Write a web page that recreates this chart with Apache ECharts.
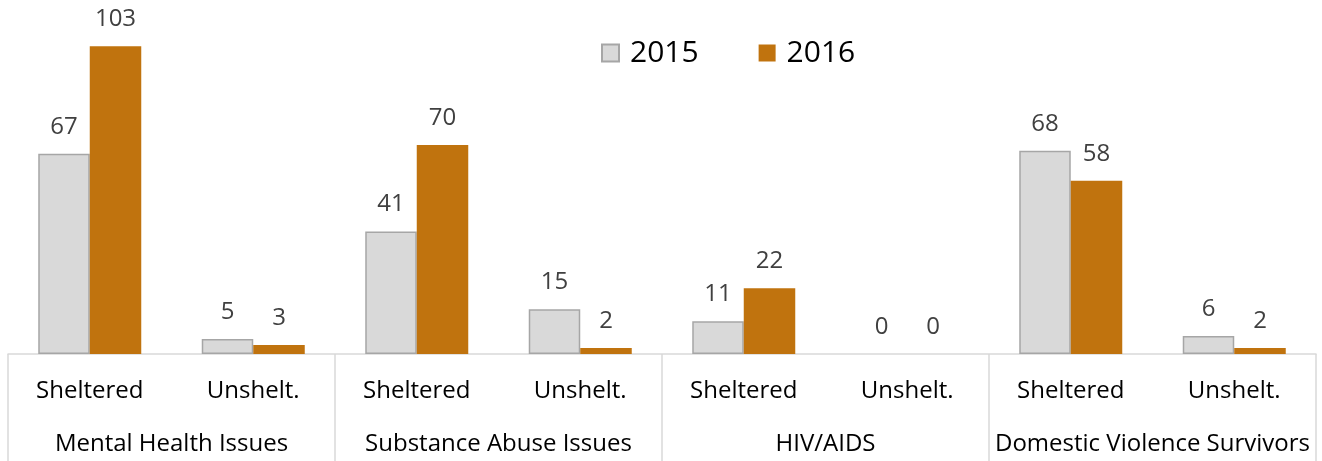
<!DOCTYPE html>
<html lang="en">
<head>
    <meta charset="UTF-8">
    <title>Sheltered vs Unsheltered</title>
    <script src="https://cdn.jsdelivr.net/npm/echarts@6.0.0/dist/echarts.min.js"></script>
    <style>
        * { margin: 0; padding: 0; }
        body { background: #fff; }
        #chart { width: 1322px; height: 461px; }
    </style>
</head>
<body>
    <div id="chart"></div>
    <script>
        // data
        const subCats = ['Sheltered', 'Unshelt.', 'Sheltered', 'Unshelt.', 'Sheltered', 'Unshelt.', 'Sheltered', 'Unshelt.'];
        const groups = ['Mental Health Issues', 'Substance Abuse Issues', 'HIV/AIDS', 'Domestic Violence Survivors'];
        const v2015 = [67, 5, 41, 15, 11, 0, 68, 6];
        const v2016 = [103, 3, 70, 2, 22, 0, 58, 2];

        const font = '"Open Sans", sans-serif';
        const chart = echarts.init(document.getElementById('chart'));

        const labelStyle = {
            show: true,
            position: 'top',
            distance: 15,
            color: '#404040',
            fontSize: 24,
            fontFamily: font
        };

        // zero-height bars get no outline, like the original
        const noZeroBorder = arr => arr.map(v => v === 0 ? { value: v, itemStyle: { borderWidth: 0 } } : v);

        chart.setOption({
            animation: false,
            textStyle: { fontFamily: font },
            legend: {
                top: 33,
                left: 596,
                icon: 'rect',
                itemWidth: 17,
                itemHeight: 17,
                itemGap: 60,
                textStyle: { fontSize: 30, color: '#000', fontFamily: font, padding: [0, 0, 0, 6] }
            },
            grid: { left: 8, right: 6, top: 0, bottom: 107 },
            xAxis: [
                {
                    // sub categories: Sheltered / Unshelt.
                    type: 'category',
                    data: subCats,
                    position: 'bottom',
                    axisLine: { show: false },
                    axisTick: { show: false },
                    axisLabel: { margin: 25, fontSize: 24, color: '#000', fontFamily: font, interval: 0 }
                },
                {
                    // groups, with long ticks as separators
                    type: 'category',
                    data: groups,
                    position: 'bottom',
                    axisLine: { show: true, lineStyle: { color: '#d9d9d9', width: 1.5 } },
                    axisTick: {
                        show: true,
                        length: 107,
                        lineStyle: { color: '#d9d9d9', width: 1.5 }
                    },
                    axisLabel: { margin: 78, fontSize: 24, color: '#000', fontFamily: font, interval: 0 }
                }
            ],
            yAxis: {
                type: 'value',
                min: 0,
                max: 118.5,
                show: false,
                splitLine: { show: false }
            },
            series: [
                {
                    name: '2015',
                    type: 'bar',
                    data: noZeroBorder(v2015),
                    barGap: '0%',
                    barCategoryGap: '37%',
                    itemStyle: { color: '#d9d9d9', borderColor: '#a6a6a6', borderWidth: 1.5 },
                    label: labelStyle
                },
                {
                    name: '2016',
                    type: 'bar',
                    data: v2016,
                    itemStyle: { color: '#c0730e' },
                    label: labelStyle
                }
            ]
        });
    </script>
</body>
</html>
